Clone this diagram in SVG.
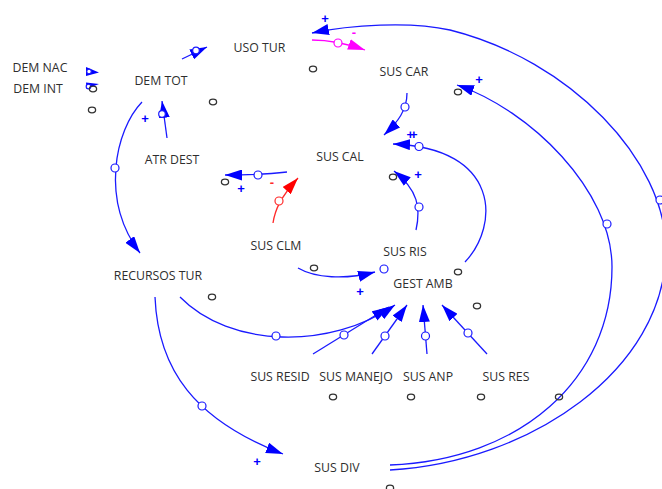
<svg xmlns="http://www.w3.org/2000/svg" width="662" height="489" viewBox="0 0 662 489">
  <style>
    .lbl { font-family: "Open Sans", "Liberation Sans", sans-serif; font-size: 12.3px; fill: #2e2e2e; text-anchor: middle; }
    .pol { font-family: "Liberation Sans", sans-serif; font-size: 13px; font-weight: bold; text-anchor: middle; }
    .link { fill: none; stroke: #1a1aff; stroke-width: 1.3; }
    .link-red { fill: none; stroke: #ff2a2a; stroke-width: 1.3; }
    .link-mag { fill: none; stroke: #ff00ff; stroke-width: 1.3; }
    .hub { fill: #ffffff; stroke: #1a1aff; stroke-width: 1.2; }
    .hub-red { fill: #ffffff; stroke: #ff2a2a; stroke-width: 1.2; }
    .hub-mag { fill: #ffffff; stroke: #ff00ff; stroke-width: 1.2; }
    .head { fill: #0000ff; }
    .shadow { fill: none; stroke: #333333; stroke-width: 1.3; }
  </style>
  <defs>
    <marker id="ah" viewBox="0 0 17 11" refX="17" refY="5.5" markerWidth="17" markerHeight="11" markerUnits="userSpaceOnUse" orient="auto">
      <path d="M0,0 L17,5.5 L0,11 z" fill="#0000ff"/>
    </marker>
    <marker id="ah-red" viewBox="0 0 17 11" refX="17" refY="5.5" markerWidth="17" markerHeight="11" markerUnits="userSpaceOnUse" orient="auto">
      <path d="M0,0 L17,5.5 L0,11 z" fill="#ff0000"/>
    </marker>
    <marker id="ah-mag" viewBox="0 0 17 11" refX="17" refY="5.5" markerWidth="17" markerHeight="11" markerUnits="userSpaceOnUse" orient="auto">
      <path d="M0,0 L17,5.5 L0,11 z" fill="#ff00ff"/>
    </marker>
  </defs>

  <rect width="662" height="489" fill="#ffffff"/>

  <!-- causal links -->
  <g id="connectors">
    <!-- DEM NAC / DEM INT -> DEM TOT (very short links) -->
    <polygon class="head" points="86,67 99,72.5 86,76"/>
    <circle class="hub" cx="89" cy="71.5" r="2.3"/>
    <polygon class="head" points="86,82.5 99,84 86.5,89"/>
    <circle class="hub" cx="88.5" cy="86.5" r="2.3"/>
    <!-- DEM TOT -> USO TUR -->
    <path class="link" d="M182,59 L207,47" marker-end="url(#ah)"/>
    <circle class="hub" cx="196" cy="50.5" r="3.3"/>
    <!-- ATR DEST -> DEM TOT -->
    <path class="link" d="M167,138 L162,101" marker-end="url(#ah)"/>
    <circle class="hub" cx="162" cy="114" r="3.3"/>
    <!-- DEM TOT -> RECURSOS TUR -->
    <path class="link" d="M142,102 C115,130 100,200 140,253" marker-end="url(#ah)"/>
    <circle class="hub" cx="115" cy="168" r="4"/>
    <!-- SUS DIV -> USO TUR (outer loop) -->
    <path class="link" d="M390,470 C530,462 665,370 666,250 C666,160 570,60 450,30 C410,21 350,25 312,33" marker-end="url(#ah)"/>
    <circle class="hub" cx="660" cy="200" r="4"/>
    <!-- SUS DIV -> SUS CAR (inner loop) -->
    <path class="link" d="M390,465 C520,460 612,380 612,267 C612,190 530,110 457,85" marker-end="url(#ah)"/>
    <circle class="hub" cx="607" cy="224" r="4"/>
    <!-- USO TUR -> SUS CAR -->
    <path class="link-mag" d="M312,40 C330,40 345,43 365,50" marker-end="url(#ah-mag)"/>
    <circle class="hub-mag" cx="338" cy="43" r="4"/>
    <!-- SUS CAR -> SUS CAL -->
    <path class="link" d="M407,93 C407,110 398,122 384,135" marker-end="url(#ah)"/>
    <circle class="hub" cx="405" cy="107" r="4"/>
    <!-- GEST AMB -> SUS CAL -->
    <path class="link" d="M465,262 C500,225 500,148 393,144" marker-end="url(#ah)"/>
    <circle class="hub" cx="419" cy="146.5" r="4"/>
    <!-- SUS RIS -> SUS CAL -->
    <path class="link" d="M416,230 C421,208 418,190 394,171" marker-end="url(#ah)"/>
    <circle class="hub" cx="419" cy="207" r="4"/>
    <!-- SUS CAL -> ATR DEST -->
    <path class="link" d="M287,172 C270,174 250,175 225,175" marker-end="url(#ah)"/>
    <circle class="hub" cx="258" cy="175" r="4"/>
    <!-- SUS CLM -> SUS CAL -->
    <path class="link-red" d="M273,223 C275,210 280,198 298,178" marker-end="url(#ah-red)"/>
    <circle class="hub-red" cx="279" cy="201" r="4"/>
    <!-- SUS CLM -> GEST AMB -->
    <path class="link" d="M298,268 C315,278 345,280 375,272" marker-end="url(#ah)"/>
    <circle class="hub" cx="384" cy="269" r="4"/>
    <!-- RECURSOS TUR -> GEST AMB -->
    <path class="link" d="M180,297 C230,348 330,350 395,305" marker-end="url(#ah)"/>
    <circle class="hub" cx="276" cy="336" r="4"/>
    <!-- SUS RESID, SUS MANEJO, SUS ANP, SUS RES -> GEST AMB -->
    <path class="link" d="M313,354 L389,307" marker-end="url(#ah)"/>
    <circle class="hub" cx="344" cy="335" r="4"/>
    <path class="link" d="M372,354 L407,305" marker-end="url(#ah)"/>
    <circle class="hub" cx="385" cy="336" r="4"/>
    <path class="link" d="M427,354 L423,305" marker-end="url(#ah)"/>
    <circle class="hub" cx="425.5" cy="336" r="4"/>
    <path class="link" d="M487,354 L442,305" marker-end="url(#ah)"/>
    <circle class="hub" cx="468" cy="333" r="4"/>
    <!-- RECURSOS TUR -> SUS DIV -->
    <path class="link" d="M155,297 C158,370 195,420 283,454" marker-end="url(#ah)"/>
    <circle class="hub" cx="202" cy="406" r="4"/>
  </g>

  <!-- link polarities -->
  <g id="polarities">
    <text class="pol" fill="#0000ff" x="325" y="23">+</text>
    <text class="pol" fill="#ff00ff" x="354" y="37">-</text>
    <text class="pol" fill="#0000ff" x="479" y="84">+</text>
    <text class="pol" fill="#0000ff" x="410" y="139" letter-spacing="-4">++</text>
    <text class="pol" fill="#0000ff" x="418" y="179">+</text>
    <text class="pol" fill="#0000ff" x="145" y="123">+</text>
    <text class="pol" fill="#0000ff" x="241" y="193">+</text>
    <text class="pol" fill="#ff2a2a" x="272" y="187">-</text>
    <text class="pol" fill="#0000ff" x="360" y="296">+</text>
    <text class="pol" fill="#0000ff" x="257" y="466">+</text>
  </g>

  <!-- level markers -->
  <g id="markers">
    <ellipse class="shadow" cx="93" cy="89" rx="3.6" ry="2.8"/>
    <ellipse class="shadow" cx="92" cy="110" rx="3.6" ry="2.8"/>
    <ellipse class="shadow" cx="213" cy="102" rx="3.6" ry="2.8"/>
    <ellipse class="shadow" cx="313" cy="69" rx="3.6" ry="2.8"/>
    <ellipse class="shadow" cx="458" cy="92" rx="3.6" ry="2.8"/>
    <ellipse class="shadow" cx="393" cy="177" rx="3.6" ry="2.8"/>
    <ellipse class="shadow" cx="225" cy="182" rx="3.6" ry="2.8"/>
    <ellipse class="shadow" cx="314" cy="268" rx="3.6" ry="2.8"/>
    <ellipse class="shadow" cx="212" cy="297" rx="3.6" ry="2.8"/>
    <ellipse class="shadow" cx="458" cy="272" rx="3.6" ry="2.8"/>
    <ellipse class="shadow" cx="477" cy="306" rx="3.6" ry="2.8"/>
    <ellipse class="shadow" cx="333" cy="397" rx="3.6" ry="2.8"/>
    <ellipse class="shadow" cx="411" cy="397" rx="3.6" ry="2.8"/>
    <ellipse class="shadow" cx="481" cy="397" rx="3.6" ry="2.8"/>
    <ellipse class="shadow" cx="559" cy="397" rx="3.6" ry="2.8"/>
    <ellipse class="shadow" cx="390" cy="488" rx="3.6" ry="2.8"/>
  </g>

  <!-- variables -->
  <g id="dem-nac"><text class="lbl" x="40" y="72">DEM NAC</text></g>
  <g id="dem-int"><text class="lbl" x="38" y="93">DEM INT</text></g>
  <g id="dem-tot"><text class="lbl" x="161" y="85">DEM TOT</text></g>
  <g id="uso-tur"><text class="lbl" x="259.5" y="52">USO TUR</text></g>
  <g id="sus-car"><text class="lbl" x="404" y="76">SUS CAR</text></g>
  <g id="sus-cal"><text class="lbl" x="340" y="161">SUS CAL</text></g>
  <g id="atr-dest"><text class="lbl" x="172" y="164">ATR DEST</text></g>
  <g id="sus-clm"><text class="lbl" x="276" y="250">SUS CLM</text></g>
  <g id="sus-ris"><text class="lbl" x="405" y="256">SUS RIS</text></g>
  <g id="recursos-tur"><text class="lbl" x="158" y="280">RECURSOS TUR</text></g>
  <g id="gest-amb"><text class="lbl" x="423" y="288">GEST AMB</text></g>
  <g id="sus-resid"><text class="lbl" x="280" y="381">SUS RESID</text></g>
  <g id="sus-manejo"><text class="lbl" x="356" y="381">SUS MANEJO</text></g>
  <g id="sus-anp"><text class="lbl" x="428" y="381">SUS ANP</text></g>
  <g id="sus-res"><text class="lbl" x="506" y="381">SUS RES</text></g>
  <g id="sus-div"><text class="lbl" x="337" y="472">SUS DIV</text></g>
</svg>
